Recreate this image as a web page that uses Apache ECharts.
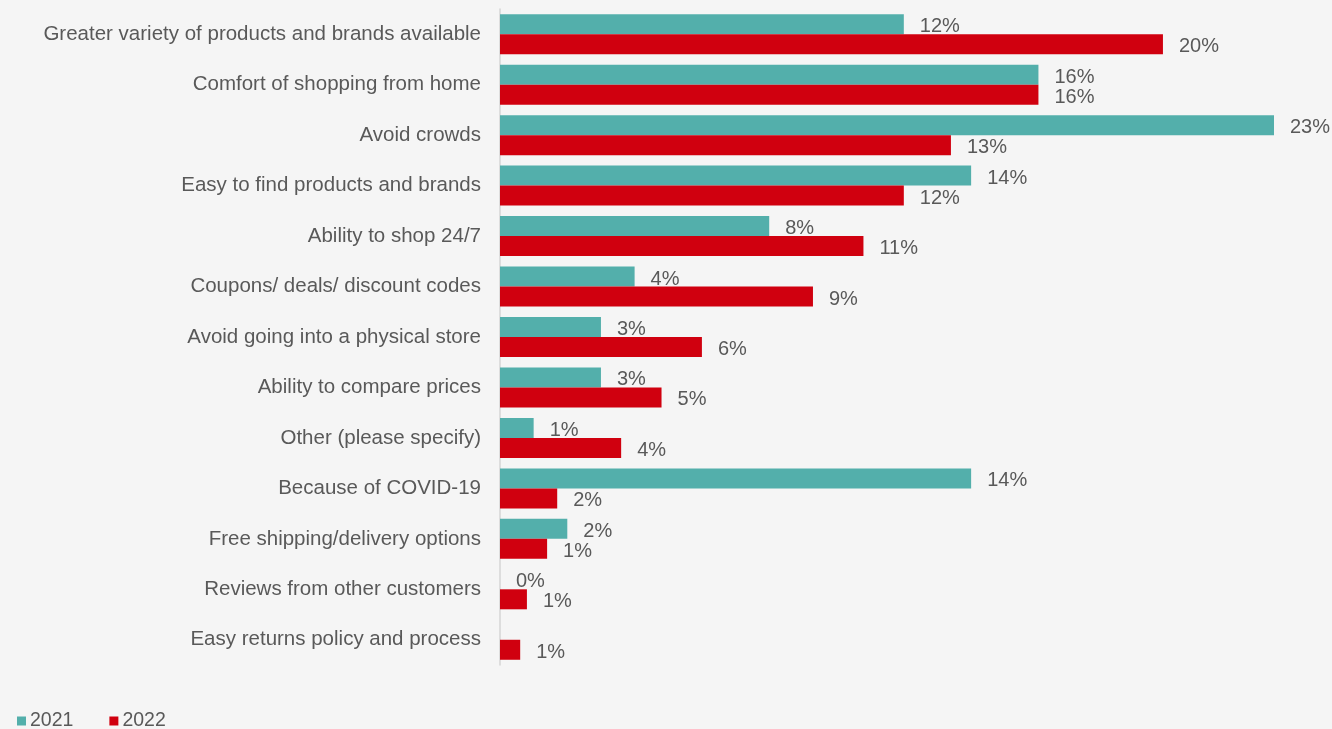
<!DOCTYPE html>
<html>
<head>
<meta charset="utf-8">
<script src="https://cdn.jsdelivr.net/npm/echarts@6/dist/echarts.min.js"></script>
<style>
  html, body { margin: 0; padding: 0; background: #f5f5f5; }
  #chart { width: 1332px; height: 729px; }
</style>
</head>
<body>
<div id="chart"></div>
<script>
// Reasons for shopping online, share of respondents (%)
const categories = [
  'Greater variety of products and brands available',
  'Comfort of shopping from home',
  'Avoid crowds',
  'Easy to find products and brands',
  'Ability to shop 24/7',
  'Coupons/ deals/ discount codes',
  'Avoid going into a physical store',
  'Ability to compare prices',
  'Other (please specify)',
  'Because of COVID-19',
  'Free shipping/delivery options',
  'Reviews from other customers',
  'Easy returns policy and process'
];
const values2021 = [12, 16, 23, 14, 8, 4, 3, 3, 1, 14, 2, 0, null];
const values2022 = [19.7, 16.0, 13.4, 12.0, 10.8, 9.3, 6.0, 4.8, 3.6, 1.7, 1.4, 0.8, 0.6];
const seriesNames = ['2021', '2022'];

const textColor = '#595959';
const fontFamily = '"Liberation Sans", Arial, sans-serif';

const valueLabel = {
  show: true,
  position: 'right',
  distance: 16,
  offset: [0, 2.5],
  color: textColor,
  fontSize: 20,
  fontFamily: fontFamily,
  formatter: p => (p.value === null || p.value === undefined) ? '' : Math.round(p.value) + '%'
};

const chart = echarts.init(document.getElementById('chart'), null, { renderer: 'canvas' });
chart.setOption({
  backgroundColor: '#f5f5f5',
  animation: false,
  grid: { left: 500, right: 58, top: 9, bottom: 64, containLabel: false },
  legend: {
    data: seriesNames,
    left: 12,
    bottom: -7,
    itemWidth: 9,
    itemHeight: 9,
    itemGap: 36,
    icon: 'rect',
    textStyle: { color: textColor, fontSize: 19.5, fontFamily: fontFamily, padding: [0, 0, 0, -1] }
  },
  xAxis: {
    type: 'value',
    min: 0,
    max: 23,
    show: false,
    splitLine: { show: false }
  },
  yAxis: {
    type: 'category',
    data: categories,
    inverse: true,
    axisTick: { show: false },
    axisLine: { show: true, lineStyle: { color: '#d4d4d4', width: 1.5 } },
    axisLabel: {
      color: textColor,
      fontSize: 20.5,
      fontFamily: fontFamily,
      margin: 19
    }
  },
  series: [
    {
      name: seriesNames[0],
      type: 'bar',
      data: values2021,
      barWidth: 20,
      barGap: '0%',
      itemStyle: { color: '#53afab' },
      label: valueLabel
    },
    {
      name: seriesNames[1],
      type: 'bar',
      data: values2022,
      barWidth: 20,
      barGap: '0%',
      itemStyle: { color: '#d0000f' },
      label: valueLabel
    }
  ]
});
</script>
</body>
</html>
